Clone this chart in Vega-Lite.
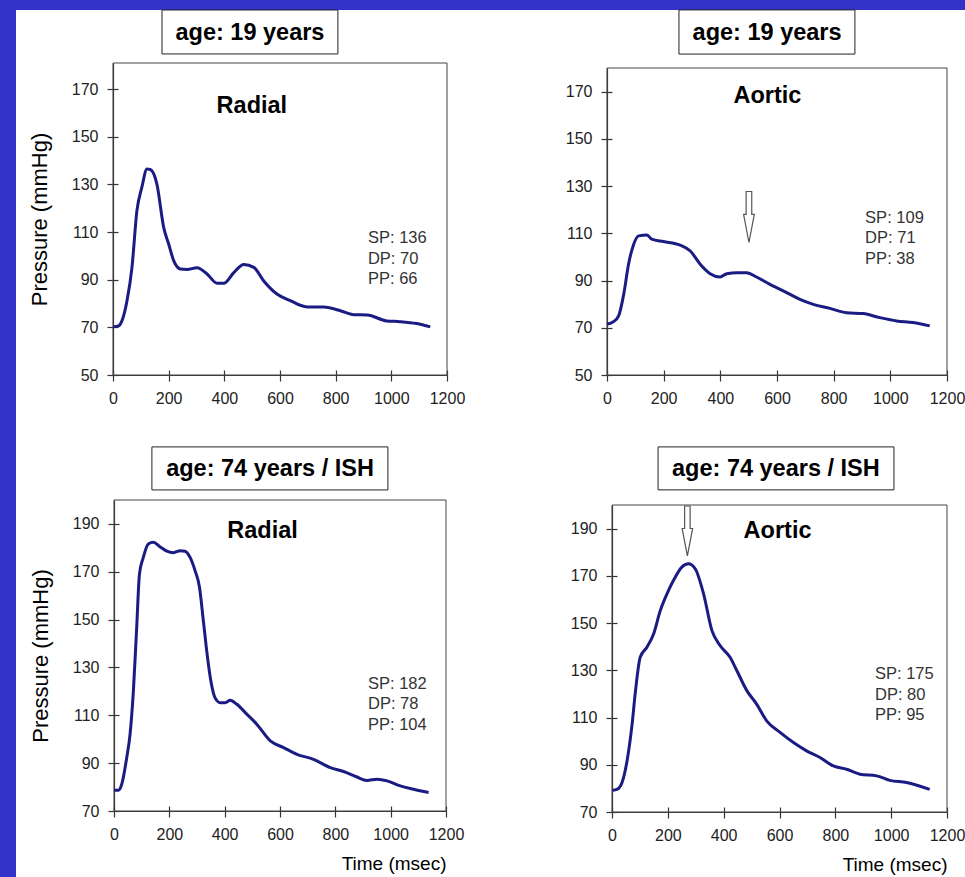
{
  "$schema": "https://vega.github.io/schema/vega-lite/v6.json",
  "background": "#3333cc",
  "padding": {"left": 16, "top": 9, "right": 0, "bottom": 0},
  "spacing": 0,
  "bounds": "flush",
  "columns": 2,
  "datasets": {
    "a_line": [
      {"t": 0, "p": 70.2}, {"t": 20, "p": 70.6}, {"t": 32, "p": 72.7}, {"t": 50, "p": 81}, {"t": 68, "p": 95},
      {"t": 86, "p": 119}, {"t": 104, "p": 129}, {"t": 122, "p": 136.5}, {"t": 134, "p": 136.3}, {"t": 158, "p": 130},
      {"t": 182, "p": 112}, {"t": 200, "p": 105}, {"t": 218, "p": 98}, {"t": 242, "p": 94.5}, {"t": 266, "p": 94.3},
      {"t": 302, "p": 95}, {"t": 338, "p": 92.4}, {"t": 374, "p": 88.5}, {"t": 398, "p": 88.5}, {"t": 434, "p": 93},
      {"t": 470, "p": 96.4}, {"t": 506, "p": 95.2}, {"t": 541, "p": 89.6}, {"t": 589, "p": 84}, {"t": 637, "p": 81.2},
      {"t": 697, "p": 78.6}, {"t": 757, "p": 78.5}, {"t": 817, "p": 77}, {"t": 865, "p": 75.3}, {"t": 913, "p": 75.2},
      {"t": 983, "p": 72.7}, {"t": 1031, "p": 72.4}, {"t": 1091, "p": 71.6}, {"t": 1140, "p": 70.2}
    ],
    "b_line": [
      {"t": 0, "p": 71.5}, {"t": 23, "p": 72.6}, {"t": 41, "p": 75}, {"t": 59, "p": 84.2}, {"t": 76, "p": 96.9},
      {"t": 94, "p": 105.3}, {"t": 112, "p": 108.9}, {"t": 141, "p": 109.3}, {"t": 158, "p": 107.5}, {"t": 200, "p": 106.5},
      {"t": 258, "p": 105}, {"t": 294, "p": 102.5}, {"t": 329, "p": 96.9}, {"t": 364, "p": 92.9}, {"t": 399, "p": 91.5},
      {"t": 423, "p": 92.9}, {"t": 458, "p": 93.3}, {"t": 493, "p": 93.3}, {"t": 528, "p": 91.5}, {"t": 575, "p": 88.4},
      {"t": 634, "p": 84.9}, {"t": 681, "p": 82}, {"t": 728, "p": 79.9}, {"t": 787, "p": 78.2}, {"t": 845, "p": 76.4},
      {"t": 904, "p": 76}, {"t": 963, "p": 74.3}, {"t": 1022, "p": 72.9}, {"t": 1080, "p": 72.2}, {"t": 1139, "p": 70.8}
    ],
    "c_line": [
      {"t": 0, "p": 78.7}, {"t": 16, "p": 78.7}, {"t": 28, "p": 81.2}, {"t": 46, "p": 92.3}, {"t": 58, "p": 102},
      {"t": 70, "p": 120}, {"t": 82, "p": 146.7}, {"t": 92, "p": 169}, {"t": 106, "p": 176}, {"t": 124, "p": 181.6},
      {"t": 142, "p": 182.3}, {"t": 166, "p": 180.5}, {"t": 191, "p": 178.6}, {"t": 215, "p": 178}, {"t": 239, "p": 178.8},
      {"t": 257, "p": 178.6}, {"t": 275, "p": 176}, {"t": 293, "p": 170.5}, {"t": 309, "p": 163.5}, {"t": 323, "p": 149.5},
      {"t": 338, "p": 134.2}, {"t": 350, "p": 124.4}, {"t": 365, "p": 117.4}, {"t": 384, "p": 115.3}, {"t": 402, "p": 115.3},
      {"t": 420, "p": 116.3}, {"t": 444, "p": 114.6}, {"t": 480, "p": 110.5}, {"t": 516, "p": 106.3}, {"t": 565, "p": 99.3},
      {"t": 613, "p": 96.5}, {"t": 661, "p": 93.7}, {"t": 721, "p": 91.6}, {"t": 782, "p": 88.1}, {"t": 830, "p": 86.5},
      {"t": 878, "p": 84.2}, {"t": 914, "p": 82.8}, {"t": 951, "p": 83.3}, {"t": 987, "p": 82.6}, {"t": 1035, "p": 80.5},
      {"t": 1083, "p": 79.1}, {"t": 1137, "p": 77.7}
    ],
    "d_line": [
      {"t": 2, "p": 79.2}, {"t": 18, "p": 79.6}, {"t": 36, "p": 82.5}, {"t": 54, "p": 91.7}, {"t": 72, "p": 107.2},
      {"t": 83, "p": 120}, {"t": 101, "p": 135.5}, {"t": 125, "p": 139.8}, {"t": 149, "p": 145.4}, {"t": 173, "p": 155.3},
      {"t": 197, "p": 162.4}, {"t": 220, "p": 168}, {"t": 250, "p": 173.7}, {"t": 274, "p": 175.1}, {"t": 298, "p": 173},
      {"t": 328, "p": 162.4}, {"t": 358, "p": 146.8}, {"t": 387, "p": 140.5}, {"t": 423, "p": 135.5}, {"t": 447, "p": 129.9},
      {"t": 483, "p": 121.4}, {"t": 518, "p": 115.7}, {"t": 554, "p": 108.6}, {"t": 602, "p": 103.7}, {"t": 650, "p": 99.4},
      {"t": 697, "p": 95.9}, {"t": 745, "p": 93.1}, {"t": 793, "p": 89.5}, {"t": 840, "p": 88.1}, {"t": 888, "p": 86},
      {"t": 948, "p": 85.3}, {"t": 995, "p": 83.4}, {"t": 1055, "p": 82.5}, {"t": 1138, "p": 79.6}
    ]
  },
  "concat": [
    {
      "width": 464, "height": 431,
      "resolve": {"axis": {"x": "independent", "y": "independent"}},
      "layer": [
        {
          "data": {"values": [{"frame": "plot"}]},
          "mark": {"type": "rect", "fill": "white", "fillOpacity": 0, "stroke": "#444", "strokeWidth": 1},
          "encoding": {
            "x": {"datum": 0, "type": "quantitative", "axis": {"orient": "bottom", "values": [0, 200, 400, 600, 800, 1000, 1200], "offset": -66, "tickSize": -5, "labels": false, "domain": false, "title": null}},
            "x2": {"datum": 1200},
            "y": {"datum": 50, "type": "quantitative", "axis": {"orient": "left", "values": [50, 70, 90, 110, 130, 150, 170], "offset": -97, "tickSize": -5, "labels": false, "domain": false, "title": null}},
            "y2": {"datum": 181}
          }
        },
        {
          "data": {"name": "a_line"},
          "mark": {"type": "line", "color": "#1b1b84", "strokeWidth": 3, "interpolate": "monotone"},
          "encoding": {
            "x": {"field": "t", "type": "quantitative",
              "scale": {"domain": [0, 1200], "range": [97, 431], "nice": false, "zero": false},
              "axis": {"orient": "bottom", "values": [0, 200, 400, 600, 800, 1000, 1200], "offset": -66, "title": null}},
            "y": {"field": "p", "type": "quantitative",
              "scale": {"domain": [50, 181], "range": [365, 53], "nice": false, "zero": false},
              "axis": {"orient": "left", "values": [50, 70, 90, 110, 130, 150, 170], "offset": -97, "title": "Pressure (mmHg)", "titleFontSize": 22, "titlePadding": 20}}
          }
        },
        {
          "data": {"values": [{"box": "title"}]},
          "mark": {"type": "rect", "fill": "white", "stroke": "#222", "strokeWidth": 1},
          "encoding": {
            "x": {"datum": 176, "type": "quantitative", "axis": null}, "x2": {"datum": 808},
            "y": {"datum": 203.25, "type": "quantitative", "axis": null}, "y2": {"datum": 184.8}
          }
        },
        {
          "data": {"values": [{"label": "age: 19 years"}]},
          "mark": {"type": "text", "fontSize": 23.5, "fontWeight": "bold", "align": "center", "baseline": "alphabetic", "color": "#000"},
          "encoding": {"x": {"datum": 492, "type": "quantitative", "axis": null}, "y": {"datum": 190.7, "type": "quantitative", "axis": null}, "text": {"field": "label"}}
        },
        {
          "data": {"values": [{"label": "Radial"}]},
          "mark": {"type": "text", "fontSize": 23.5, "fontWeight": "bold", "align": "center", "baseline": "alphabetic", "color": "#000"},
          "encoding": {"x": {"datum": 499, "type": "quantitative", "axis": null}, "y": {"datum": 160, "type": "quantitative", "axis": null}, "text": {"field": "label"}}
        },
        {
          "data": {"values": [{"label": "SP: 136\nDP: 70\nPP: 66"}]},
          "mark": {"type": "text", "fontSize": 16.5, "align": "left", "baseline": "alphabetic", "color": "#333", "lineBreak": "\n", "lineHeight": 20.5},
          "encoding": {"x": {"datum": 916, "type": "quantitative", "axis": null}, "y": {"datum": 105.4, "type": "quantitative", "axis": null}, "text": {"field": "label"}}
        }
      ]
    },
    {
      "width": 485, "height": 431,
      "resolve": {"axis": {"x": "independent", "y": "independent"}},
      "layer": [
        {
          "data": {"values": [{"frame": "plot"}]},
          "mark": {"type": "rect", "fill": "white", "fillOpacity": 0, "stroke": "#444", "strokeWidth": 1},
          "encoding": {
            "x": {"datum": 0, "type": "quantitative", "axis": {"orient": "bottom", "values": [0, 200, 400, 600, 800, 1000, 1200], "offset": -66, "tickSize": -5, "labels": false, "domain": false, "title": null}},
            "x2": {"datum": 1200},
            "y": {"datum": 50, "type": "quantitative", "axis": {"orient": "left", "values": [50, 70, 90, 110, 130, 150, 170], "offset": -127, "tickSize": -5, "labels": false, "domain": false, "title": null}},
            "y2": {"datum": 180}
          }
        },
        {
          "data": {"name": "b_line"},
          "mark": {"type": "line", "color": "#1b1b84", "strokeWidth": 3, "interpolate": "monotone"},
          "encoding": {
            "x": {"field": "t", "type": "quantitative",
              "scale": {"domain": [0, 1200], "range": [127, 467], "nice": false, "zero": false},
              "axis": {"orient": "bottom", "values": [0, 200, 400, 600, 800, 1000, 1200], "offset": -66, "title": null}},
            "y": {"field": "p", "type": "quantitative",
              "scale": {"domain": [50, 180], "range": [365, 58], "nice": false, "zero": false},
              "axis": {"orient": "left", "values": [50, 70, 90, 110, 130, 150, 170], "offset": -127, "title": null}}
          }
        },
        {
          "data": {"values": [{"box": "title"}]},
          "mark": {"type": "rect", "fill": "white", "stroke": "#222", "strokeWidth": 1},
          "encoding": {
            "x": {"datum": 254, "type": "quantitative", "axis": null}, "x2": {"datum": 875},
            "y": {"datum": 204.6, "type": "quantitative", "axis": null}, "y2": {"datum": 185.9}
          }
        },
        {
          "data": {"values": [{"label": "age: 19 years"}]},
          "mark": {"type": "text", "fontSize": 23.5, "fontWeight": "bold", "align": "center", "baseline": "alphabetic", "color": "#000"},
          "encoding": {"x": {"datum": 565, "type": "quantitative", "axis": null}, "y": {"datum": 191.9, "type": "quantitative", "axis": null}, "text": {"field": "label"}}
        },
        {
          "data": {"values": [{"label": "Aortic"}]},
          "mark": {"type": "text", "fontSize": 23.5, "fontWeight": "bold", "align": "center", "baseline": "alphabetic", "color": "#000"},
          "encoding": {"x": {"datum": 566, "type": "quantitative", "axis": null}, "y": {"datum": 165.2, "type": "quantitative", "axis": null}, "text": {"field": "label"}}
        },
        {
          "data": {"values": [{"label": "SP: 109\nDP: 71\nPP: 38"}]},
          "mark": {"type": "text", "fontSize": 16.5, "align": "left", "baseline": "alphabetic", "color": "#333", "lineBreak": "\n", "lineHeight": 20.5},
          "encoding": {"x": {"datum": 911, "type": "quantitative", "axis": null}, "y": {"datum": 114.4, "type": "quantitative", "axis": null}, "text": {"field": "label"}}
        },
        {
          "data": {"values": [{"marker": "inflection"}]},
          "mark": {"type": "point", "shape": "M -0.11 -1 L 0.11 -1 L 0.11 -0.1 L 0.21 -0.1 L 0 1 L -0.21 -0.1 L -0.11 -0.1 Z", "size": 2600, "filled": false, "stroke": "#555", "strokeWidth": 1.2, "opacity": 1},
          "encoding": {"x": {"datum": 501, "type": "quantitative", "axis": null}, "y": {"datum": 116.9, "type": "quantitative", "axis": null}}
        }
      ]
    },
    {
      "width": 464, "height": 437,
      "resolve": {"axis": {"x": "independent", "y": "independent"}},
      "layer": [
        {
          "data": {"values": [{"frame": "plot"}]},
          "mark": {"type": "rect", "fill": "white", "fillOpacity": 0, "stroke": "#444", "strokeWidth": 1},
          "encoding": {
            "x": {"datum": 0, "type": "quantitative", "axis": {"orient": "bottom", "values": [0, 200, 400, 600, 800, 1000, 1200], "offset": -67, "tickSize": -5, "labels": false, "domain": false, "title": null}},
            "x2": {"datum": 1200},
            "y": {"datum": 70, "type": "quantitative", "axis": {"orient": "left", "values": [70, 90, 110, 130, 150, 170, 190], "offset": -98, "tickSize": -5, "labels": false, "domain": false, "title": null}},
            "y2": {"datum": 200}
          }
        },
        {
          "data": {"name": "c_line"},
          "mark": {"type": "line", "color": "#1b1b84", "strokeWidth": 3, "interpolate": "monotone"},
          "encoding": {
            "x": {"field": "t", "type": "quantitative",
              "scale": {"domain": [0, 1200], "range": [98, 430], "nice": false, "zero": false},
              "axis": {"orient": "bottom", "values": [0, 200, 400, 600, 800, 1000, 1200], "offset": -67, "title": "Time (msec)", "titleFontSize": 19, "titleAnchor": "end", "titlePadding": 12}},
            "y": {"field": "p", "type": "quantitative",
              "scale": {"domain": [70, 200], "range": [370, 59], "nice": false, "zero": false},
              "axis": {"orient": "left", "values": [70, 90, 110, 130, 150, 170, 190], "offset": -98, "title": "Pressure (mmHg)", "titleFontSize": 22, "titlePadding": 20}}
          }
        },
        {
          "data": {"values": [{"box": "title"}]},
          "mark": {"type": "rect", "fill": "white", "stroke": "#222", "strokeWidth": 1},
          "encoding": {
            "x": {"datum": 137, "type": "quantitative", "axis": null}, "x2": {"datum": 990},
            "y": {"datum": 222.2, "type": "quantitative", "axis": null}, "y2": {"datum": 204.2}
          }
        },
        {
          "data": {"values": [{"label": "age: 74 years / ISH"}]},
          "mark": {"type": "text", "fontSize": 23.5, "fontWeight": "bold", "align": "center", "baseline": "alphabetic", "color": "#000"},
          "encoding": {"x": {"datum": 564, "type": "quantitative", "axis": null}, "y": {"datum": 210, "type": "quantitative", "axis": null}, "text": {"field": "label"}}
        },
        {
          "data": {"values": [{"label": "Radial"}]},
          "mark": {"type": "text", "fontSize": 23.5, "fontWeight": "bold", "align": "center", "baseline": "alphabetic", "color": "#000"},
          "encoding": {"x": {"datum": 537, "type": "quantitative", "axis": null}, "y": {"datum": 184.1, "type": "quantitative", "axis": null}, "text": {"field": "label"}}
        },
        {
          "data": {"values": [{"label": "SP: 182\nDP: 78\nPP: 104"}]},
          "mark": {"type": "text", "fontSize": 16.5, "align": "left", "baseline": "alphabetic", "color": "#333", "lineBreak": "\n", "lineHeight": 20.5},
          "encoding": {"x": {"datum": 918, "type": "quantitative", "axis": null}, "y": {"datum": 121, "type": "quantitative", "axis": null}, "text": {"field": "label"}}
        }
      ]
    },
    {
      "width": 485, "height": 437,
      "resolve": {"axis": {"x": "independent", "y": "independent"}},
      "layer": [
        {
          "data": {"values": [{"frame": "plot"}]},
          "mark": {"type": "rect", "fill": "white", "fillOpacity": 0, "stroke": "#444", "strokeWidth": 1},
          "encoding": {
            "x": {"datum": 0, "type": "quantitative", "axis": {"orient": "bottom", "values": [0, 200, 400, 600, 800, 1000, 1200], "offset": -66, "tickSize": -5, "labels": false, "domain": false, "title": null}},
            "x2": {"datum": 1200},
            "y": {"datum": 70, "type": "quantitative", "axis": {"orient": "left", "values": [70, 90, 110, 130, 150, 170, 190], "offset": -132, "tickSize": -5, "labels": false, "domain": false, "title": null}},
            "y2": {"datum": 200}
          }
        },
        {
          "data": {"name": "d_line"},
          "mark": {"type": "line", "color": "#1b1b84", "strokeWidth": 3, "interpolate": "monotone"},
          "encoding": {
            "x": {"field": "t", "type": "quantitative",
              "scale": {"domain": [0, 1200], "range": [132, 467], "nice": false, "zero": false},
              "axis": {"orient": "bottom", "values": [0, 200, 400, 600, 800, 1000, 1200], "offset": -66, "title": "Time (msec)", "titleFontSize": 19, "titleAnchor": "end", "titlePadding": 12}},
            "y": {"field": "p", "type": "quantitative",
              "scale": {"domain": [70, 200], "range": [371, 64], "nice": false, "zero": false},
              "axis": {"orient": "left", "values": [70, 90, 110, 130, 150, 170, 190], "offset": -132, "title": null}}
          }
        },
        {
          "data": {"values": [{"box": "title"}]},
          "mark": {"type": "rect", "fill": "white", "stroke": "#222", "strokeWidth": 1},
          "encoding": {
            "x": {"datum": 165, "type": "quantitative", "axis": null}, "x2": {"datum": 1010},
            "y": {"datum": 224.6, "type": "quantitative", "axis": null}, "y2": {"datum": 206.4}
          }
        },
        {
          "data": {"values": [{"label": "age: 74 years / ISH"}]},
          "mark": {"type": "text", "fontSize": 23.5, "fontWeight": "bold", "align": "center", "baseline": "alphabetic", "color": "#000"},
          "encoding": {"x": {"datum": 587, "type": "quantitative", "axis": null}, "y": {"datum": 212.3, "type": "quantitative", "axis": null}, "text": {"field": "label"}}
        },
        {
          "data": {"values": [{"label": "Aortic"}]},
          "mark": {"type": "text", "fontSize": 23.5, "fontWeight": "bold", "align": "center", "baseline": "alphabetic", "color": "#000"},
          "encoding": {"x": {"datum": 593, "type": "quantitative", "axis": null}, "y": {"datum": 186, "type": "quantitative", "axis": null}, "text": {"field": "label"}}
        },
        {
          "data": {"values": [{"label": "SP: 175\nDP: 80\nPP: 95"}]},
          "mark": {"type": "text", "fontSize": 16.5, "align": "left", "baseline": "alphabetic", "color": "#333", "lineBreak": "\n", "lineHeight": 20.5},
          "encoding": {"x": {"datum": 942, "type": "quantitative", "axis": null}, "y": {"datum": 126.3, "type": "quantitative", "axis": null}, "text": {"field": "label"}}
        },
        {
          "data": {"values": [{"marker": "peak"}]},
          "mark": {"type": "point", "shape": "M -0.11 -1 L 0.11 -1 L 0.11 -0.1 L 0.21 -0.1 L 0 1 L -0.21 -0.1 L -0.11 -0.1 Z", "size": 2500, "filled": false, "stroke": "#555", "strokeWidth": 1.2, "opacity": 1},
          "encoding": {"x": {"datum": 270, "type": "quantitative", "axis": null}, "y": {"datum": 189, "type": "quantitative", "axis": null}}
        }
      ]
    }
  ],
  "config": {
    "font": "Liberation Sans",
    "view": {"fill": "white", "stroke": null},
    "axis": {"grid": false, "domainColor": "#333", "tickColor": "#333", "tickSize": 6, "domainWidth": 1.2, "tickWidth": 1.2,
      "labelFontSize": 16, "labelColor": "#222", "labelFont": "Liberation Sans", "labelOverlap": false, "labelFlush": false, "format": "d",
      "titleFont": "Liberation Sans", "titleFontWeight": "normal", "titleColor": "#000"},
    "axisX": {"labelPadding": 9},
    "axisY": {"labelPadding": 9}
  }
}
